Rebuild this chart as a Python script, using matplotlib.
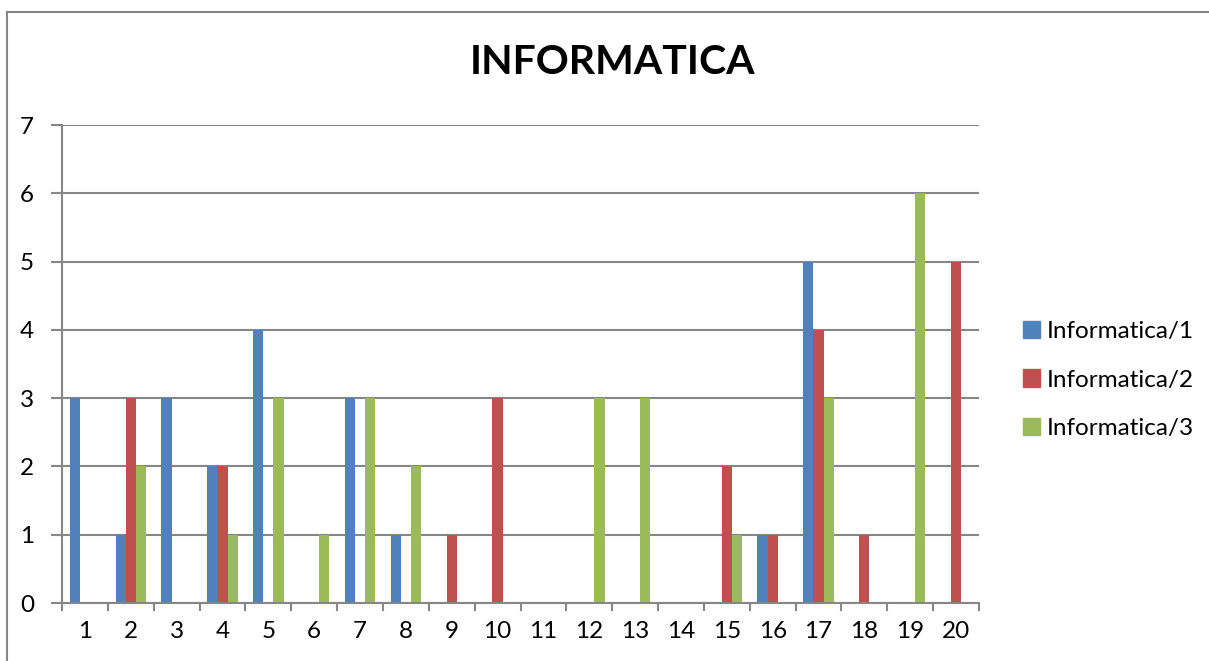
import matplotlib
matplotlib.use("Agg")
import matplotlib.pyplot as plt
import numpy as np
from matplotlib.lines import Line2D

categories = [str(i) for i in range(1, 21)]
series_names = ["Informatica/1", "Informatica/2", "Informatica/3"]
info1 = [3, 1, 3, 2, 4, 0, 3, 1, 0, 0, 0, 0, 0, 0, 0, 1, 5, 0, 0, 0]
info2 = [0, 3, 0, 2, 0, 0, 0, 0, 1, 3, 0, 0, 0, 0, 2, 1, 4, 1, 0, 5]
info3 = [0, 2, 0, 1, 3, 1, 3, 2, 0, 0, 0, 3, 3, 0, 1, 0, 3, 0, 6, 0]
colors = ["#4F81BD", "#C0504D", "#9BBB59"]

plt.rcParams['font.family'] = ['Lato', 'DejaVu Sans']

W, H = 1209, 661
fig = plt.figure(figsize=(W / 100, H / 100), dpi=100)
ax = fig.add_axes([62 / W, 1 - 603 / H, (979 - 62) / W, (603 - 125) / H])

x = np.arange(len(categories))
bw = 0.222
for i, (vals, name, c) in enumerate(zip([info1, info2, info3], series_names, colors)):
    ax.bar(x + (i - 1) * bw, vals, width=bw, color=c, label=name, zorder=3)

ax.set_xlim(-0.5, len(categories) - 0.5)
ax.set_ylim(0, 7)
ax.set_yticks(range(0, 8))
ax.set_xticks(x)
ax.set_xticklabels(categories)
ax.set_xticks(np.arange(-0.5, len(categories), 1), minor=True)
ax.tick_params(axis='x', which='major', length=0, pad=13, labelsize=17.5)
ax.tick_params(axis='x', which='minor', length=6, width=1.5, color='#868686', direction='out')
ax.tick_params(axis='y', length=8, width=1.5, color='#868686', pad=12, labelsize=17.5)
ax.grid(axis='y', color='#868686', linewidth=1.5, zorder=0)
for s in ['top', 'right']:
    ax.spines[s].set_visible(False)
for s in ['left', 'bottom']:
    ax.spines[s].set_color('#868686')
    ax.spines[s].set_linewidth(1.5)
    ax.spines[s].set_zorder(4)

fig.text(613 / W, 1 - 63 / H, "INFORMATICA", ha='center', va='center',
         fontsize=29.5, fontweight='bold')

handles = [plt.Rectangle((0, 0), 1, 1, color=c) for c in colors]
fig.legend(handles, series_names, loc='center left', bbox_to_anchor=(1001 / W, 1 - 380 / H),
           frameon=False, fontsize=17.5, handlelength=0.7, handleheight=0.7,
           handletextpad=0.3, labelspacing=1.15)

# outer chart border (left and top visible)
fig.add_artist(Line2D([7 / W, 7 / W], [0, 1 - 12 / H], color='#868686', linewidth=1.5,
                      transform=fig.transFigure))
fig.add_artist(Line2D([7 / W, 1], [1 - 12 / H, 1 - 12 / H], color='#868686', linewidth=1.5,
                      transform=fig.transFigure))

fig.savefig("out.png", dpi=100)
